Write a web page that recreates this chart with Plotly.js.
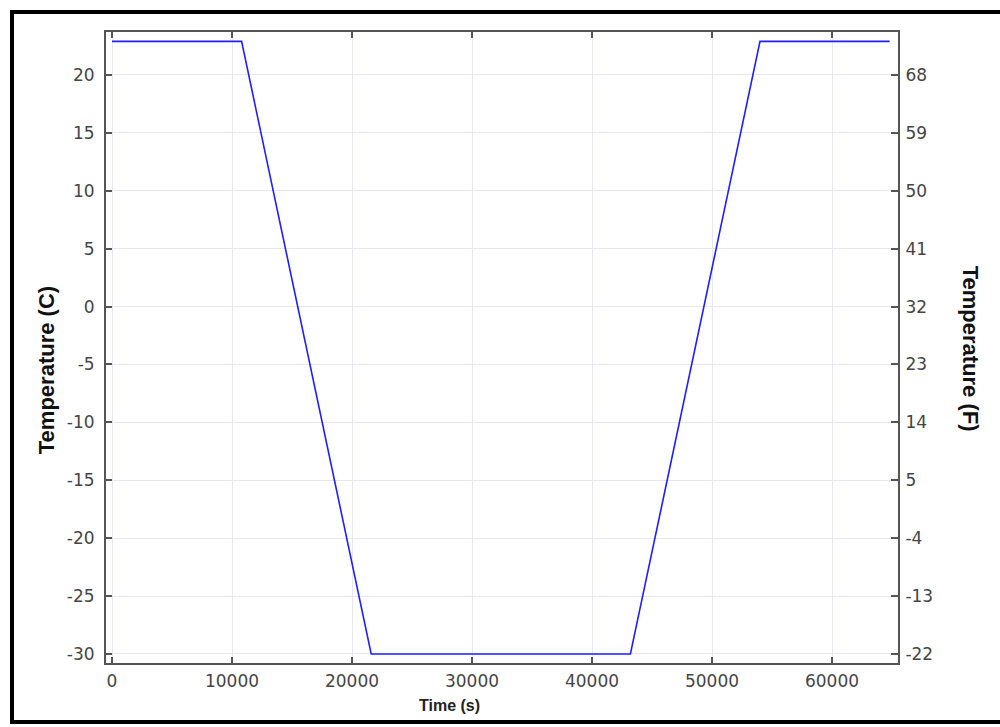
<!DOCTYPE html>
<html><head><meta charset="utf-8">
<script src="https://cdn.plot.ly/plotly-3.0.1.min.js"></script>
<style>
html,body{margin:0;padding:0;background:#fff;}
#wrap{position:relative;width:1000px;height:727px;}
#chart{width:1000px;height:727px;}
#frame{position:absolute;left:10px;top:10px;width:1000px;height:714px;border:4px solid #000;pointer-events:none;box-sizing:border-box;border-right:none;}
</style></head>
<body>
<div id="wrap"><div id="chart"></div><div id="frame"></div></div>
<script>
// Time (s) and temperature (C)
const timeS = [0, 10800, 21600, 43200, 54000, 64800];
const tempC = [22.9, 22.9, -30, -30, 22.9, 22.9];
const cTicks = [-30, -25, -20, -15, -10, -5, 0, 5, 10, 15, 20];
const fTicks = [-22, -13, -4, 5, 14, 23, 32, 41, 50, 59, 68];
const xTicks = [0, 10000, 20000, 30000, 40000, 50000, 60000];

const yRange = [-30.78, 23.71];
const y2Range = yRange.map(c => c * 9 / 5 + 32);
const tickFont = {family: 'DejaVu Sans, sans-serif', size: 17, color: '#454545'};
const gridCol = '#ebe6ee';
const axCol = '#555';
const titleFont = {family: 'Liberation Sans, Arial, sans-serif', size: 22, color: '#111'};

const traces = [{
  x: timeS, y: tempC, type: 'scatter', mode: 'lines',
  line: {color: 'rgb(30,30,255)', width: 1.6}, showlegend: false, hoverinfo: 'skip'
}, {
  x: [timeS[0]], y: [tempC[0] * 9 / 5 + 32], yaxis: 'y2', type: 'scatter', mode: 'markers',
  marker: {opacity: 0}, showlegend: false, hoverinfo: 'skip'
}];

const layout = {
  width: 1000, height: 727,
  margin: {l: 106, r: 102, t: 32, b: 64},
  paper_bgcolor: '#fff', plot_bgcolor: '#fff',
  xaxis: {
    range: [-500, 65500], tickvals: xTicks, ticktext: xTicks.map(String),
    ticks: 'inside', ticklen: 6, tickwidth: 2, tickcolor: axCol,
    showline: true, linecolor: axCol, linewidth: 2, mirror: 'ticks',
    showgrid: true, gridcolor: gridCol, gridwidth: 1, zeroline: false,
    tickfont: tickFont, ticklabelstandoff: 2
  },
  yaxis: {
    range: yRange, tickvals: cTicks, ticktext: cTicks.map(String),
    ticks: 'inside', ticklen: 6, tickwidth: 2, tickcolor: axCol,
    showline: true, linecolor: axCol, linewidth: 2,
    showgrid: true, gridcolor: gridCol, gridwidth: 1, zeroline: false,
    tickfont: tickFont, ticklabelstandoff: 6
  },
  yaxis2: {
    overlaying: 'y', side: 'right', range: y2Range,
    tickvals: fTicks, ticktext: fTicks.map(String),
    ticks: 'inside', ticklen: 7, tickwidth: 2, tickcolor: axCol,
    showline: true, linecolor: axCol, linewidth: 2,
    showgrid: false, zeroline: false, tickfont: tickFont, ticklabelstandoff: 2
  },
  annotations: [
    {text: '<b>Temperature (C)</b>', xref: 'paper', yref: 'paper', x: -0.0758, y: 0.464,
     xanchor: 'center', yanchor: 'middle',
     textangle: -90, showarrow: false, font: titleFont},
    {text: '<b>Temperature (F)</b>', xref: 'paper', yref: 'paper', x: 1.091, y: 0.498,
     xanchor: 'center', yanchor: 'middle',
     textangle: 90, showarrow: false, font: titleFont},
    {text: '<b>Time (s)</b>', xref: 'paper', yref: 'paper', x: 0.4337, y: -0.0681,
     xanchor: 'center', yanchor: 'middle',
     showarrow: false, font: {family: 'Liberation Sans, Arial, sans-serif', size: 16, color: '#222'}}
  ]
};
Plotly.newPlot('chart', traces, layout, {displayModeBar: false, staticPlot: true});
</script>
</body></html>
